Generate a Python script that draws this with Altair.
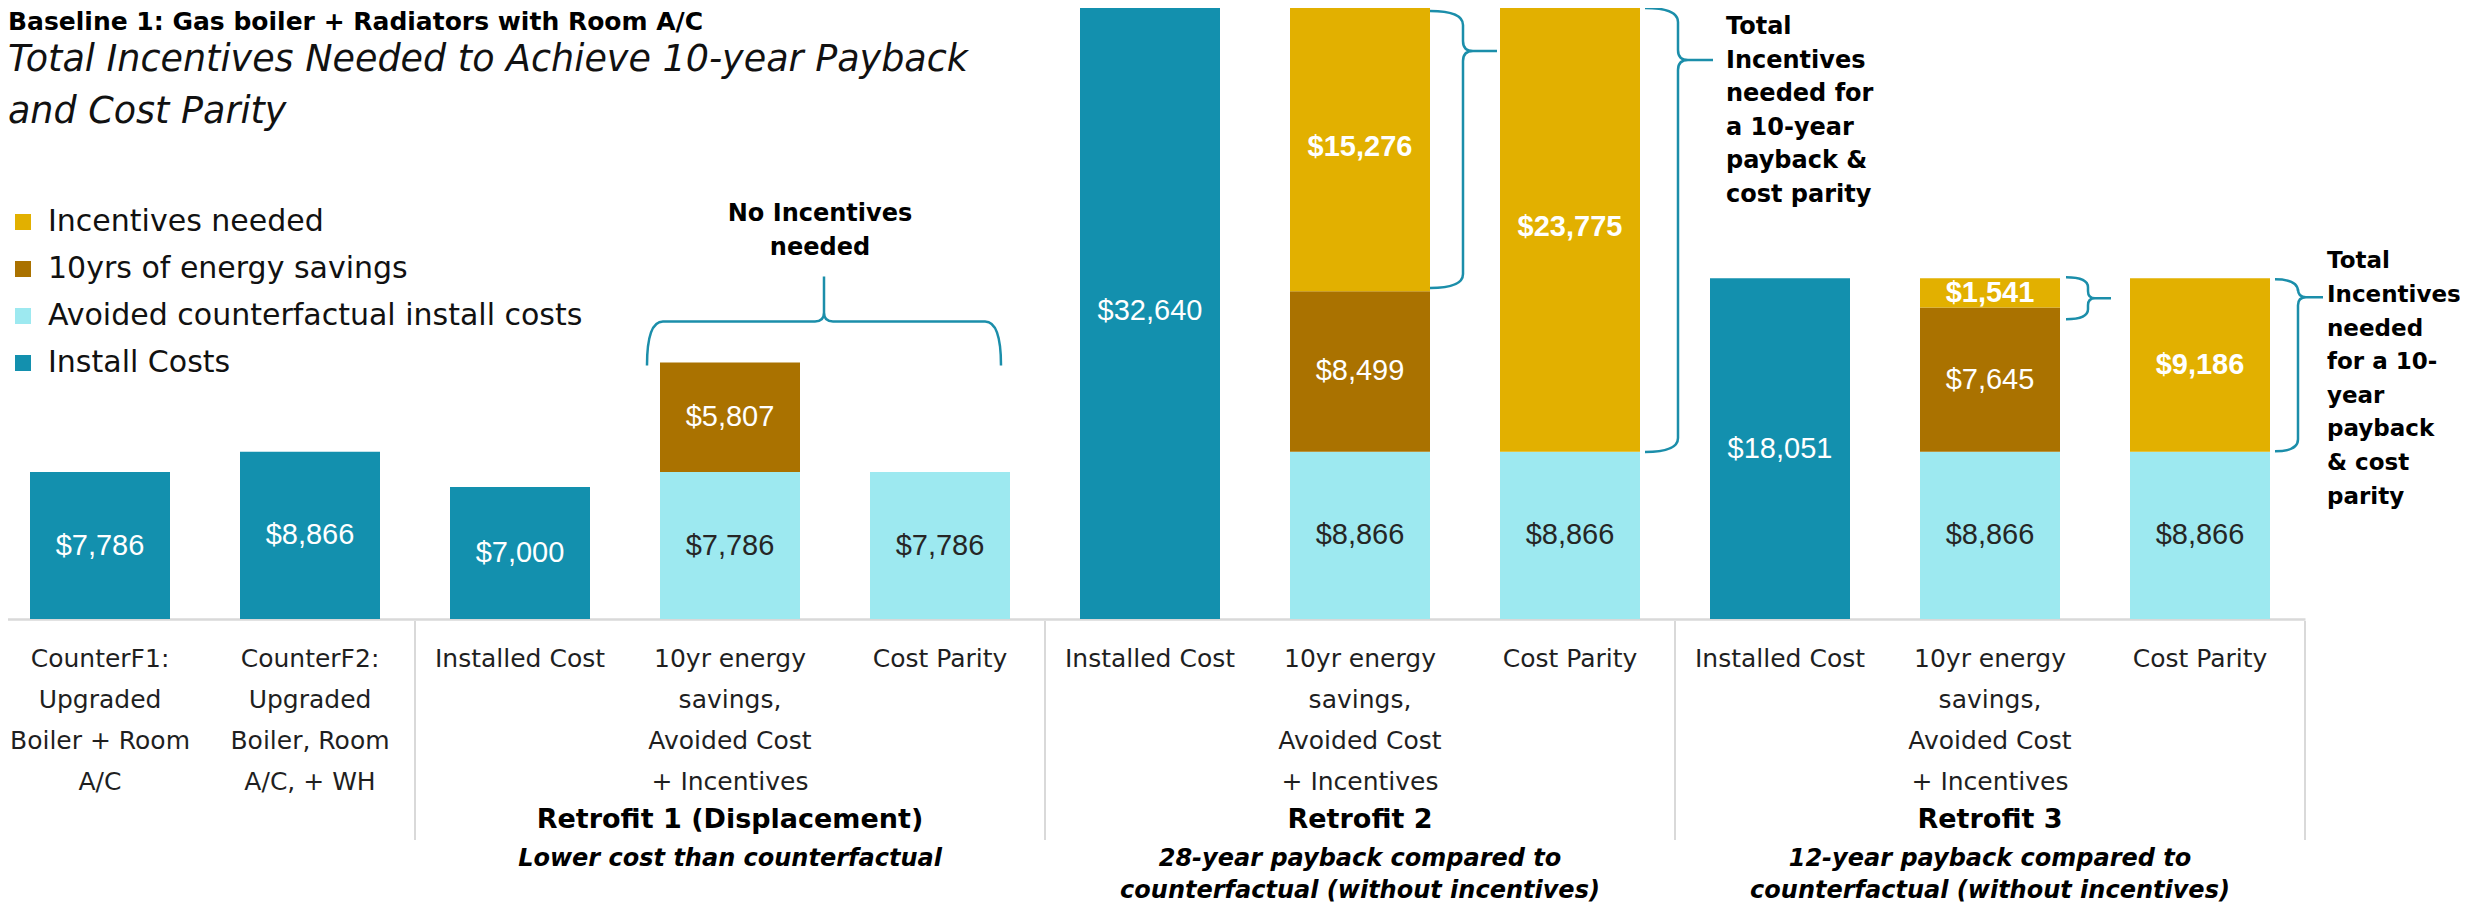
import altair as alt
import pandas as pd

# ---------------- data ----------------
categories = ["cf1", "cf2", "r1_inst", "r1_save", "r1_par",
              "r2_inst", "r2_save", "r2_par", "r3_inst", "r3_save", "r3_par"]
category_labels = [
    "CounterF1:\nUpgraded\nBoiler + Room\nA/C",
    "CounterF2:\nUpgraded\nBoiler, Room\nA/C, + WH",
    "Installed Cost",
    "10yr energy\nsavings,\nAvoided Cost\n+ Incentives",
    "Cost Parity",
    "Installed Cost",
    "10yr energy\nsavings,\nAvoided Cost\n+ Incentives",
    "Cost Parity",
    "Installed Cost",
    "10yr energy\nsavings,\nAvoided Cost\n+ Incentives",
    "Cost Parity",
]
series_names = ["Install Costs", "Avoided counterfactual install costs",
                "10yrs of energy savings", "Incentives needed"]
install_costs = [7786, 8866, 7000, 0, 0, 32640, 0, 0, 18051, 0, 0]
avoided_costs = [0, 0, 0, 7786, 7786, 0, 8866, 8866, 0, 8866, 8866]
energy_savings = [0, 0, 0, 5807, 0, 0, 8499, 0, 0, 7645, 0]
incentives = [0, 0, 0, 0, 0, 0, 15276, 23775, 0, 1541, 9186]
series_colors = ["#1390AE", "#9DE9F0", "#AA7200", "#E2B000"]

legend_order = ["Incentives needed", "10yrs of energy savings",
                "Avoided counterfactual install costs", "Install Costs"]

group_middle = ["r1_save", "r2_save", "r3_save"]
group_names = ["Retrofit 1 (Displacement)", "Retrofit 2", "Retrofit 3"]
group_notes = ["Lower cost than counterfactual",
               "28-year payback compared to\ncounterfactual (without incentives)",
               "12-year payback compared to\ncounterfactual (without incentives)"]
group_starts = ["r1_inst", "r2_inst", "r3_inst"]
group_end = ["r3_par"]

title_text = "Baseline 1: Gas boiler + Radiators with Room A/C"
subtitle_text = "Total Incentives Needed to Achieve 10-year Payback\nand Cost Parity"
note_none = "No Incentives\nneeded"
note_r2 = "Total\nIncentives\nneeded for\na 10-year\npayback &\ncost parity"
note_r3 = "Total\nIncentives\nneeded\nfor a 10-\nyear\npayback\n& cost\nparity"

# ---------------- tables ----------------
series_values = [install_costs, avoided_costs, energy_savings, incentives]
rows = []
for i, cat in enumerate(categories):
    for s, (name, vals) in enumerate(zip(series_names, series_values)):
        if vals[i] > 0:
            rows.append({"cat": cat, "series": name, "value": vals[i], "order": s})
df = pd.DataFrame(rows)
totals = {c: sum(v[i] for v in series_values) for i, c in enumerate(categories)}
ymax = max(totals.values())

labels_df = pd.DataFrame({"cat": categories, "label": category_labels})
groups_df = pd.DataFrame({"cat": group_middle, "name": group_names, "note": group_notes})

# ---------------- layout / style ----------------
FONT = "DejaVu Sans"
NUMFONT = "Liberation Sans"
TEXT = "#1f1f1f"
GRID = "#D9D9D9"
BRACE = "#1B8EAA"
PLOT_W, PLOT_H = 2452, 611
xscale = alt.Scale(domain=categories, range=[-13, 2297], paddingInner=1 / 3, paddingOuter=1 / 6)
yscale = alt.Scale(domain=[0, ymax], range=[PLOT_H, -5], nice=False, zero=True)
xaxis = alt.Axis(labels=False, ticks=False, title=None, grid=False, domain=True,
                 domainColor=GRID, domainWidth=2.5)


def X(bp=0.5):
    return alt.X("cat:N", scale=xscale, axis=xaxis, sort=categories, bandPosition=bp)


def Y(field):
    return alt.Y(field, scale=yscale, axis=None)


def vbrace(x0, y0, y1, lx, tx, ty, r, rt):
    return (f"M{x0},{y0}Q{lx},{y0} {lx},{y0 + r}L{lx},{ty - rt}Q{lx},{ty} {lx + rt},{ty}"
            f"L{tx},{ty}M{lx + rt},{ty}Q{lx},{ty} {lx},{ty + rt}L{lx},{y1 - r}"
            f"Q{lx},{y1} {x0},{y1}")


def hbrace(xl, xr, yend, hy, tx, ty, r, rt):
    return (f"M{xl},{yend}Q{xl},{hy} {xl + r},{hy}L{tx - rt},{hy}Q{tx},{hy} {tx},{hy - rt}"
            f"L{tx},{ty}M{tx},{hy - rt}Q{tx},{hy} {tx + rt},{hy}L{xr - r},{hy}"
            f"Q{xr},{hy} {xr},{yend}")


braces_df = pd.DataFrame({
    "cat": ["r1_save", "r2_save", "r2_par", "r3_save", "r3_par"],
    "anchor": [totals["r1_save"], totals["r2_save"], totals["r2_par"],
               totals["r3_save"], totals["r3_par"]],
    "path": [
        hbrace(-153, 201, 3, -41, 24, -86, 16, 9),
        vbrace(0, 8, 285, 33, 67, 48, 14, 10),
        vbrace(5, 5, 449, 38, 73, 57, 14, 10),
        vbrace(6, -1, 41, 28, 51, 20, 10, 7),
        vbrace(5, 1, 173, 28, 53, 19, 12, 8),
    ],
})

# ---------------- layers ----------------
stacked = alt.Chart(df).transform_stack(
    stack="value", groupby=["cat"], sort=[alt.SortField("order", order="ascending")],
    as_=["y0", "y1"]
).transform_calculate(mid="(datum.y0 + datum.y1) / 2")

bars = stacked.mark_bar(strokeWidth=0).encode(
    x=X(),
    y=Y("y0:Q"),
    y2="y1:Q",
    color=alt.Color("series:N",
                    scale=alt.Scale(domain=legend_order,
                                    range=[series_colors[3], series_colors[2],
                                           series_colors[1], series_colors[0]]),
                    legend=alt.Legend(orient="none", legendX=0, legendY=199, title=None,
                                      symbolType="square", symbolSize=256,
                                      symbolStrokeWidth=0, symbolOpacity=1,
                                      labelFont=FONT, labelFontSize=30, labelColor="#111111",
                                      rowPadding=17, labelOffset=10, padding=0, offset=0,
                                      labelLimit=0)),
)

value_regular = stacked.transform_filter("datum.series !== 'Incentives needed'").mark_text(
    font=NUMFONT, fontSize=29, baseline="middle", align="center"
).encode(
    x=X(), y=Y("mid:Q"),
    text=alt.Text("value:Q", format="$,.0f"),
    color=alt.condition("datum.series === 'Avoided counterfactual install costs'",
                        alt.value("#262626"), alt.value("#ffffff")),
)

value_bold = stacked.transform_filter("datum.series === 'Incentives needed'").mark_text(
    font=NUMFONT, fontSize=29, fontWeight="bold", baseline="middle", align="center",
    color="#ffffff"
).encode(x=X(), y=Y("mid:Q"), text=alt.Text("value:Q", format="$,.0f"))

axis_labels = alt.Chart(labels_df).mark_text(
    font=FONT, fontSize=25, lineBreak="\n", lineHeight=41, baseline="alphabetic",
    align="center", color=TEXT
).encode(x=X(), y=alt.value(659), text="label:N")

seps_start = alt.Chart(pd.DataFrame({"cat": group_starts})).mark_rule(
    color=GRID, strokeWidth=2, xOffset=-35
).encode(x=X(0), y=alt.value(613), y2=alt.value(832))

seps_end = alt.Chart(pd.DataFrame({"cat": group_end})).mark_rule(
    color=GRID, strokeWidth=2, xOffset=35
).encode(x=X(1), y=alt.value(613), y2=alt.value(832))

group_title = alt.Chart(groups_df).mark_text(
    font=FONT, fontSize=27, fontWeight="bold", baseline="alphabetic", align="center",
    color="#000000"
).encode(x=X(), y=alt.value(820), text="name:N")

group_note = alt.Chart(groups_df).mark_text(
    font=FONT, fontSize=24, fontWeight="bold", fontStyle="italic", lineBreak="\n",
    lineHeight=32, baseline="alphabetic", align="center", color="#000000"
).encode(x=X(), y=alt.value(858), text="note:N")

braces = alt.Chart(braces_df).mark_point(
    filled=False, size=4, opacity=1, strokeWidth=2.5, color=BRACE
).encode(x=X(1), y=Y("anchor:Q"), shape=alt.Shape("path:N", scale=None))


def note_layer(cat, text, dx, dy, align, lh, size=24):
    d = pd.DataFrame({"cat": [cat], "anchor": [totals[cat]], "t": [text]})
    return alt.Chart(d).mark_text(
        font=FONT, fontSize=size, fontWeight="bold", lineBreak="\n", lineHeight=lh,
        baseline="alphabetic", align=align, dx=dx, dy=dy, color="#000000"
    ).encode(x=X(1), y=Y("anchor:Q"), text="t:N")


note1 = note_layer("r1_save", note_none, 20, -141, "center", 34)
note2 = note_layer("r2_par", note_r2, 86, 31, "left", 33.6)
note3 = note_layer("r3_par", note_r3, 57, -10, "left", 33.6, size=23)

title = alt.Chart(pd.DataFrame({"t": [title_text]})).mark_text(
    font=FONT, fontSize=25, fontWeight="bold", align="left", baseline="alphabetic",
    color="#000000"
).encode(x=alt.value(0), y=alt.value(22), text="t:N")

subtitle = alt.Chart(pd.DataFrame({"t": [subtitle_text]})).mark_text(
    font=FONT, fontSize=36.5, fontStyle="italic", align="left", baseline="alphabetic",
    lineBreak="\n", lineHeight=52, color="#111111"
).encode(x=alt.value(0), y=alt.value(63), text="t:N")

chart = alt.layer(
    bars, value_regular, value_bold, axis_labels, seps_start, seps_end,
    group_title, group_note, braces, note1, note2, note3, title, subtitle
).properties(
    width=PLOT_W, height=PLOT_H,
    autosize=alt.AutoSizeParams(type="none"),
    padding={"left": 0, "top": 0, "right": 0, "bottom": 285},
).configure_view(strokeWidth=0)

chart.save("out.html", embed_options={"renderer": "svg", "actions": False})
